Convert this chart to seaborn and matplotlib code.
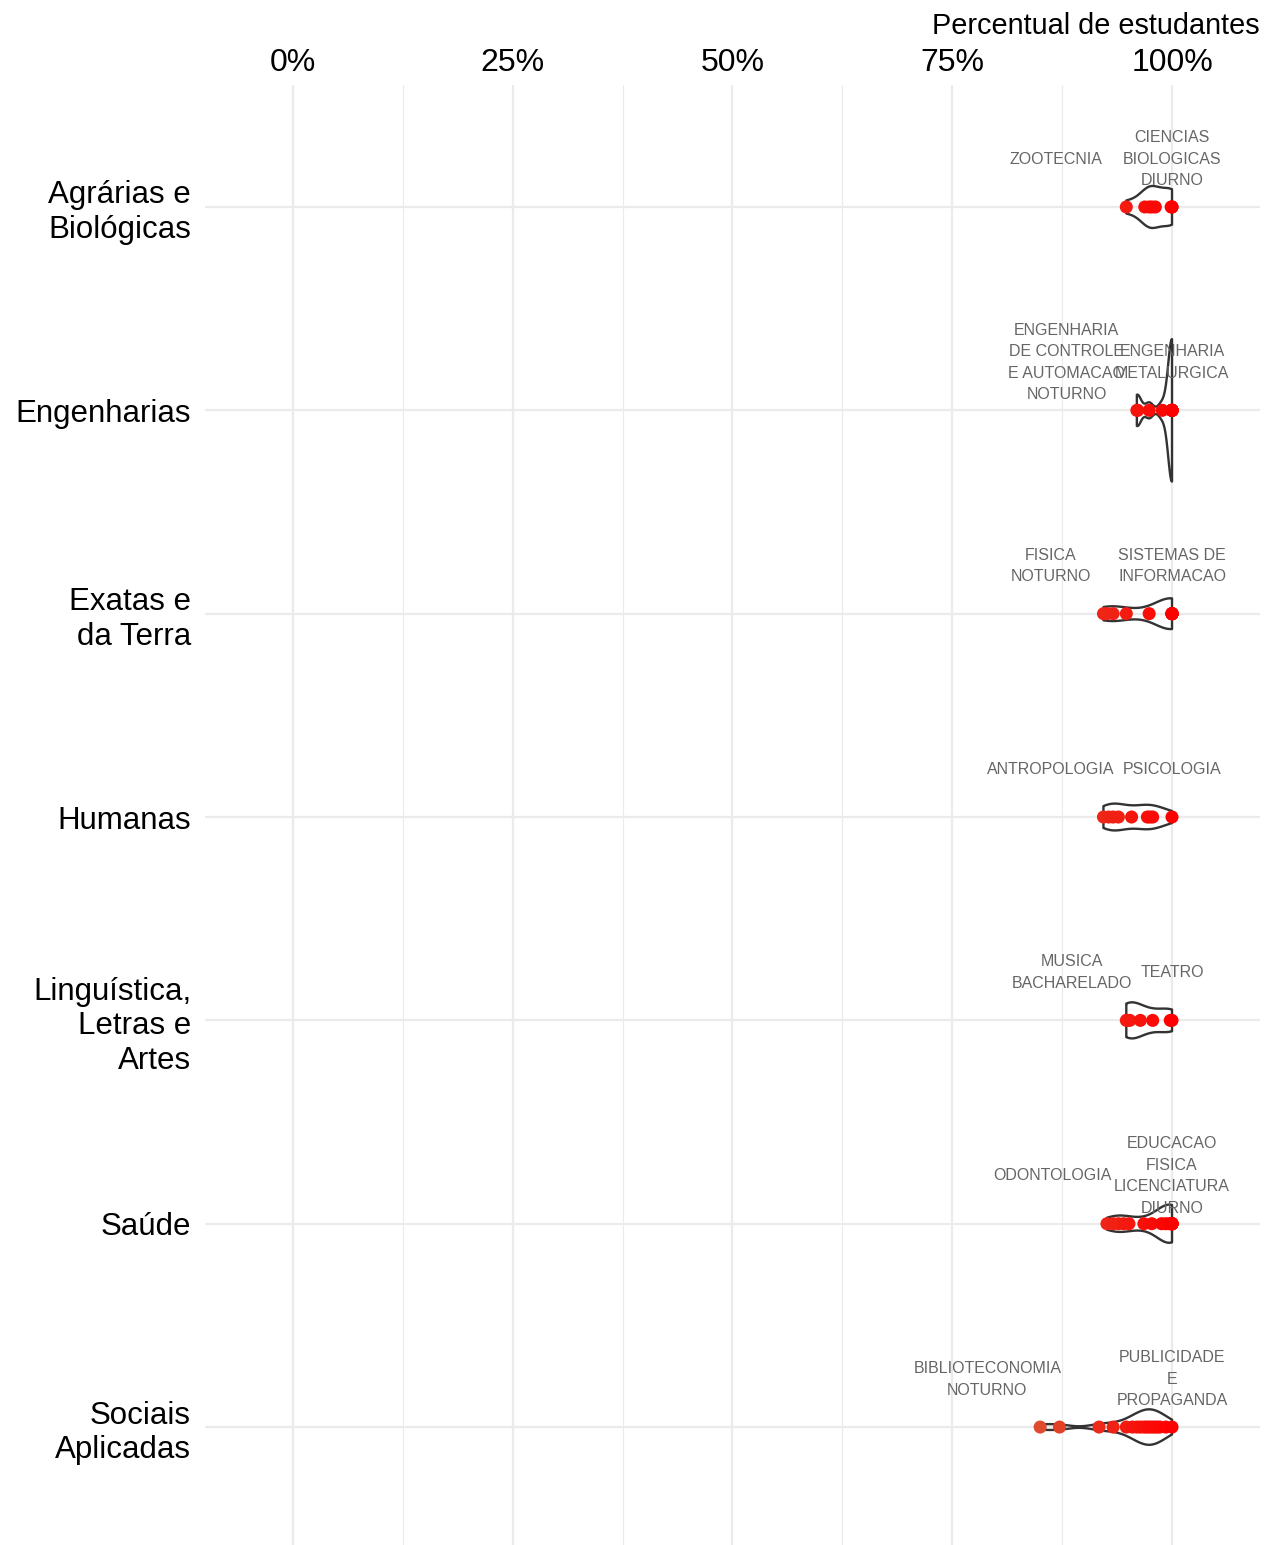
import numpy as np
import pandas as pd
import seaborn as sns
from matplotlib import pyplot as plt
from matplotlib.colors import LinearSegmentedColormap
from matplotlib.ticker import PercentFormatter, MultipleLocator

# categories (top to bottom)
areas = ["Agrárias e\nBiológicas", "Engenharias", "Exatas e\nda Terra", "Humanas",
         "Linguística,\nLetras e\nArtes", "Saúde", "Sociais\nAplicadas"]

# percentual de estudantes por curso, em cada área
agrarias = [94.8, 96.9, 97.4, 97.7, 98.1, 99.9, 100.0, 100.0]
engenharias = [96.0, 96.1, 97.4, 98.9, 100.0, 100.0, 100.0, 100.0, 100.0,
               100.0, 100.0, 100.0, 100.0]
exatas = [92.2, 92.6, 93.3, 94.8, 97.4, 100.0, 100.0, 100.0, 100.0, 100.0,
          100.0, 100.0]
humanas = [92.2, 92.8, 93.3, 93.9, 95.4, 97.2, 97.5, 97.8, 100.0]
linguistica = [94.8, 94.9, 95.2, 96.4, 97.8, 99.8, 100.0]
saude = [92.6, 93.3, 93.9, 94.5, 95.1, 96.8, 97.7, 98.8, 99.3, 99.7,
         100.0, 100.0, 100.0, 100.0, 100.0, 100.0, 100.0]
sociais = [85.0, 87.2, 91.7, 93.3, 94.8, 95.5, 96.0, 96.4, 96.8, 97.1, 97.4,
           97.7, 98.0, 98.3, 98.6, 99.3, 100.0]

min_labels = ["ZOOTECNIA", "ENGENHARIA\nDE CONTROLE\nE AUTOMACAO\nNOTURNO",
              "FISICA\nNOTURNO", "ANTROPOLOGIA", "MUSICA\nBACHARELADO",
              "ODONTOLOGIA", "BIBLIOTECONOMIA\nNOTURNO"]
max_labels = ["CIENCIAS\nBIOLOGICAS\nDIURNO", "ENGENHARIA\nMETALURGICA",
              "SISTEMAS DE\nINFORMACAO", "PSICOLOGIA", "TEATRO",
              "EDUCACAO\nFISICA\nLICENCIATURA\nDIURNO", "PUBLICIDADE\nE\nPROPAGANDA"]
# horizontal shift of the min label away from its point (repel-like)
min_label_nudge = [-8, -8, -6, -6, -6.2, -6.2, -6]

values = [agrarias, engenharias, exatas, humanas, linguistica, saude, sociais]
df = pd.DataFrame({
    "area": np.repeat(areas, [len(v) for v in values]),
    "pct": np.concatenate(values),
})


def bw_nrd0(kde):
    """R's bw.nrd0 expressed as a scipy bandwidth factor."""
    x = kde.dataset.ravel()
    sd = x.std(ddof=1)
    q75, q25 = np.percentile(x, [75, 25])
    lo = min(sd, (q75 - q25) / 1.34)
    if lo == 0:
        lo = sd
    return 0.9 * lo * len(x) ** -0.2 / sd


sns.set_theme(style="white")
plt.rcParams["font.family"] = ["Liberation Sans", "DejaVu Sans"]

fig = plt.figure(figsize=(12.65, 15.45), dpi=100)
ax = fig.add_axes([0.162, 0.0, 0.834, 0.945])

sns.violinplot(data=df, x="pct", y="area", order=areas, orient="h",
               inner=None, fill=False, color="#333333", linecolor="#333333",
               linewidth=1.7, cut=0, width=0.7, gridsize=512,
               density_norm="area", bw_method=bw_nrd0, ax=ax)

cmap = LinearSegmentedColormap.from_list("reds", ["#DE4B2F", "#FF0000"])
sns.stripplot(data=df, x="pct", y="area", order=areas, orient="h",
              hue="pct", palette=cmap, hue_norm=(85, 100), jitter=False,
              size=9.4, linewidth=0, legend=False, ax=ax, zorder=3)

for i, v in enumerate(values):
    ax.text(min(v) + min_label_nudge[i], i - 0.235, min_labels[i],
            ha="center", va="center", fontsize=11.5, color="#666666",
            linespacing=1.55)
    ax.text(max(v), i - 0.235, max_labels[i], ha="center", va="center",
            fontsize=11.5, color="#666666", linespacing=1.55)

ax.set_xlim(-10, 110)
ax.set_ylim(6.58, -0.6)
ax.xaxis.set_major_locator(MultipleLocator(25))
ax.xaxis.set_minor_locator(MultipleLocator(12.5))
ax.xaxis.set_major_formatter(PercentFormatter(100, decimals=0))
ax.xaxis.tick_top()
ax.xaxis.set_label_position("top")
ax.set_xlabel("Percentual de estudantes", loc="right", fontsize=20.8,
              labelpad=10, color="black")
ax.set_ylabel("")
ax.tick_params(axis="x", which="both", length=0, labelsize=23, pad=5,
               labelcolor="black")
ax.tick_params(axis="y", length=0, labelsize=22.5, pad=10, labelcolor="black")

ax.grid(False)
ax.grid(axis="x", which="major", color="#EBEBEB", linewidth=1.6)
ax.grid(axis="x", which="minor", color="#EBEBEB", linewidth=0.8)
ax.grid(axis="y", which="major", color="#EBEBEB", linewidth=1.6)
ax.set_axisbelow(True)
sns.despine(ax=ax, left=True, bottom=True, top=True, right=True)

plt.savefig("out.png", dpi=100)
